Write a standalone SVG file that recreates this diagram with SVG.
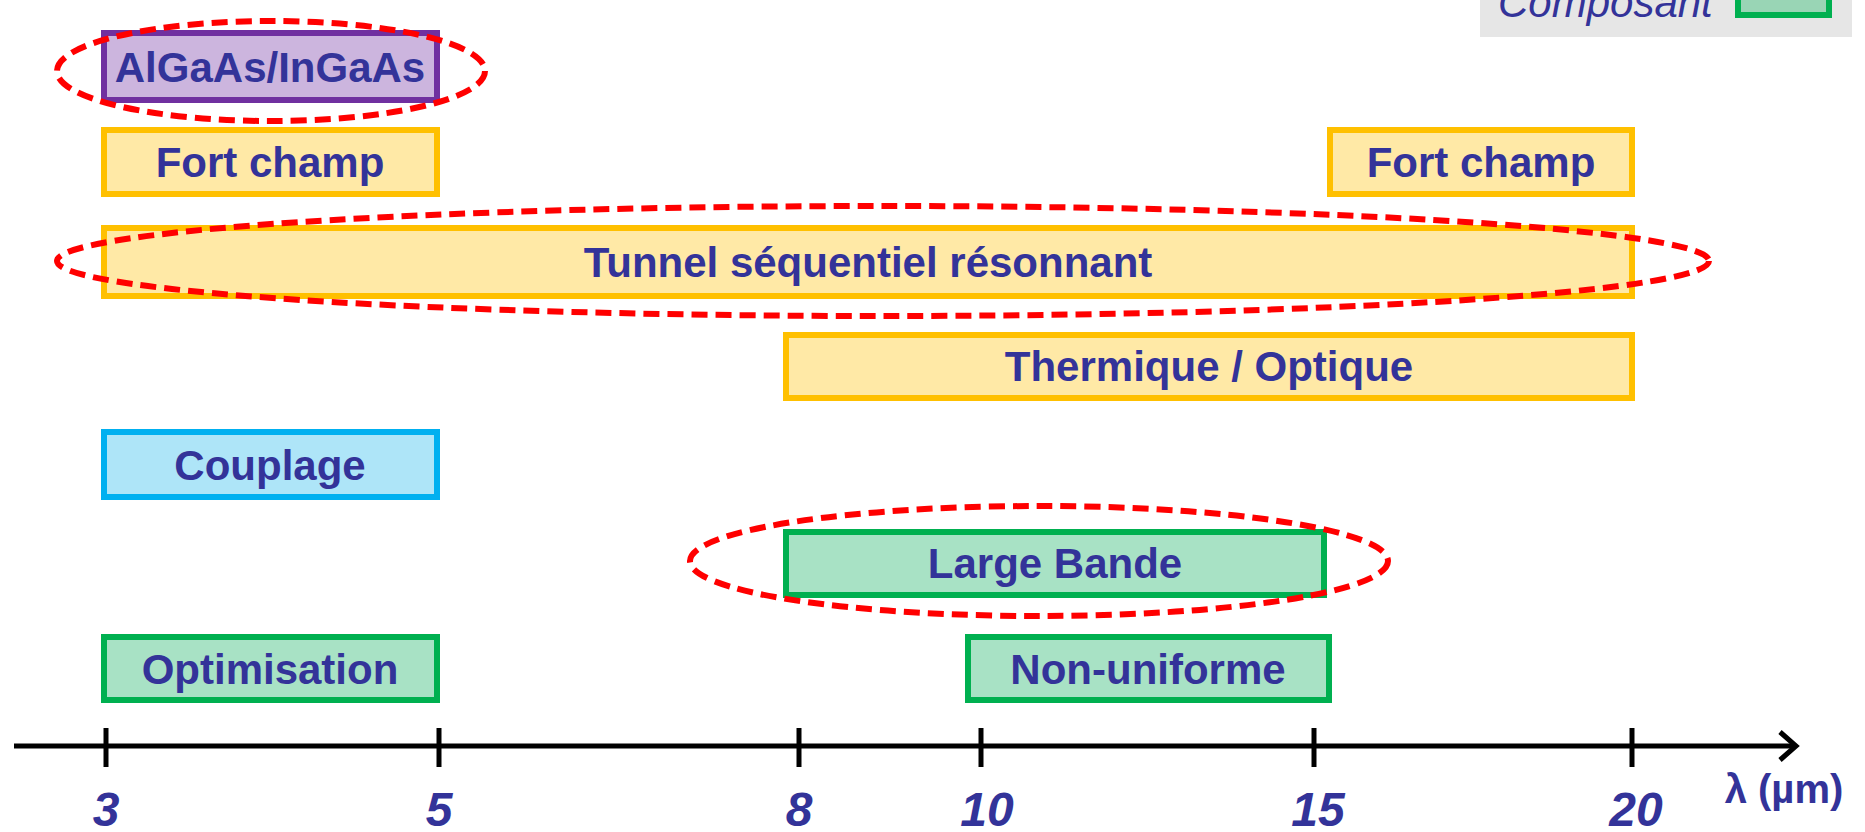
<svg xmlns="http://www.w3.org/2000/svg" width="1865" height="832" viewBox="0 0 1865 832">
<style>
.lbl{font-family:"Liberation Sans",Arial,sans-serif;font-weight:bold;font-size:42px;fill:#333399;text-anchor:middle}
.num{font-family:"Liberation Sans",Arial,sans-serif;font-weight:bold;font-style:italic;font-size:48px;fill:#333399;text-anchor:middle}
.yel{fill:#FFE9A6;stroke:#FFC000;stroke-width:6}
.grn{fill:#A8E2C5;stroke:#00B050;stroke-width:6}
.blu{fill:#AEE5F8;stroke:#00B0F0;stroke-width:6}
.pur{fill:#CCB5DE;stroke:#7030A0;stroke-width:6}
.ell{fill:none;stroke:#FF0000;stroke-width:6;stroke-dasharray:16 8}
.ax{stroke:#000;stroke-width:5;fill:none}
</style>
<rect width="1865" height="832" fill="#fff"/>
<g id="legend">
<rect x="1480" y="-5" width="372" height="42" fill="#E6E6E6"/>
<text x="1498" y="17" font-family="'Liberation Sans',Arial,sans-serif" font-style="italic" font-size="42" fill="#333399">Composant</text>
<rect x="1738" y="-10" width="91" height="25" fill="#99D5B5" stroke="#00B050" stroke-width="6"/>
</g>
<g id="n-algaas"><rect class="pur" x="104" y="33" width="333" height="67"/><text class="lbl" x="270" y="82">AlGaAs/InGaAs</text></g>
<g id="n-fortchamp1"><rect class="yel" x="104" y="130" width="333" height="64"/><text class="lbl" x="270" y="177">Fort champ</text></g>
<g id="n-fortchamp2"><rect class="yel" x="1330" y="130" width="302" height="64"/><text class="lbl" x="1481" y="177">Fort champ</text></g>
<g id="n-tunnel"><rect class="yel" x="104" y="228" width="1528" height="68"/><text class="lbl" x="868" y="277">Tunnel séquentiel résonnant</text></g>
<g id="n-thermique"><rect class="yel" x="786" y="335" width="846" height="63"/><text class="lbl" x="1209" y="381">Thermique / Optique</text></g>
<g id="n-couplage"><rect class="blu" x="104" y="432" width="333" height="65"/><text class="lbl" x="270" y="480">Couplage</text></g>
<g id="n-largebande"><rect class="grn" x="786" y="532" width="538" height="63"/><text class="lbl" x="1055" y="578">Large Bande</text></g>
<g id="n-optimisation"><rect class="grn" x="104" y="637" width="333" height="63"/><text class="lbl" x="270" y="684">Optimisation</text></g>
<g id="n-nonuniforme"><rect class="grn" x="968" y="637" width="361" height="63"/><text class="lbl" x="1148" y="684">Non-uniforme</text></g>
<g id="highlights">
<ellipse class="ell" cx="271" cy="71" rx="214" ry="50"/>
<ellipse class="ell" cx="883" cy="261" rx="826" ry="55"/>
<ellipse class="ell" cx="1039" cy="561" rx="349" ry="55"/>
</g>
<g id="axis">
<line class="ax" x1="14" y1="746" x2="1796" y2="746"/>
<path class="ax" d="M1780 732 L1796 746 L1780 760"/>
<line class="ax" x1="106" y1="728" x2="106" y2="767"/>
<line class="ax" x1="439" y1="728" x2="439" y2="767"/>
<line class="ax" x1="799" y1="728" x2="799" y2="767"/>
<line class="ax" x1="981" y1="728" x2="981" y2="767"/>
<line class="ax" x1="1314" y1="728" x2="1314" y2="767"/>
<line class="ax" x1="1632" y1="728" x2="1632" y2="767"/>
<text class="num" x="106" y="826">3</text>
<text class="num" x="439" y="826">5</text>
<text class="num" x="799" y="826">8</text>
<text class="num" x="987" y="826">10</text>
<text class="num" x="1318" y="826">15</text>
<text class="num" x="1636" y="826">20</text>
<text x="1784" y="803" font-family="'Liberation Sans',Arial,sans-serif" font-weight="bold" font-size="40" fill="#333399" text-anchor="middle">λ (µm)</text>
</g>
</svg>
